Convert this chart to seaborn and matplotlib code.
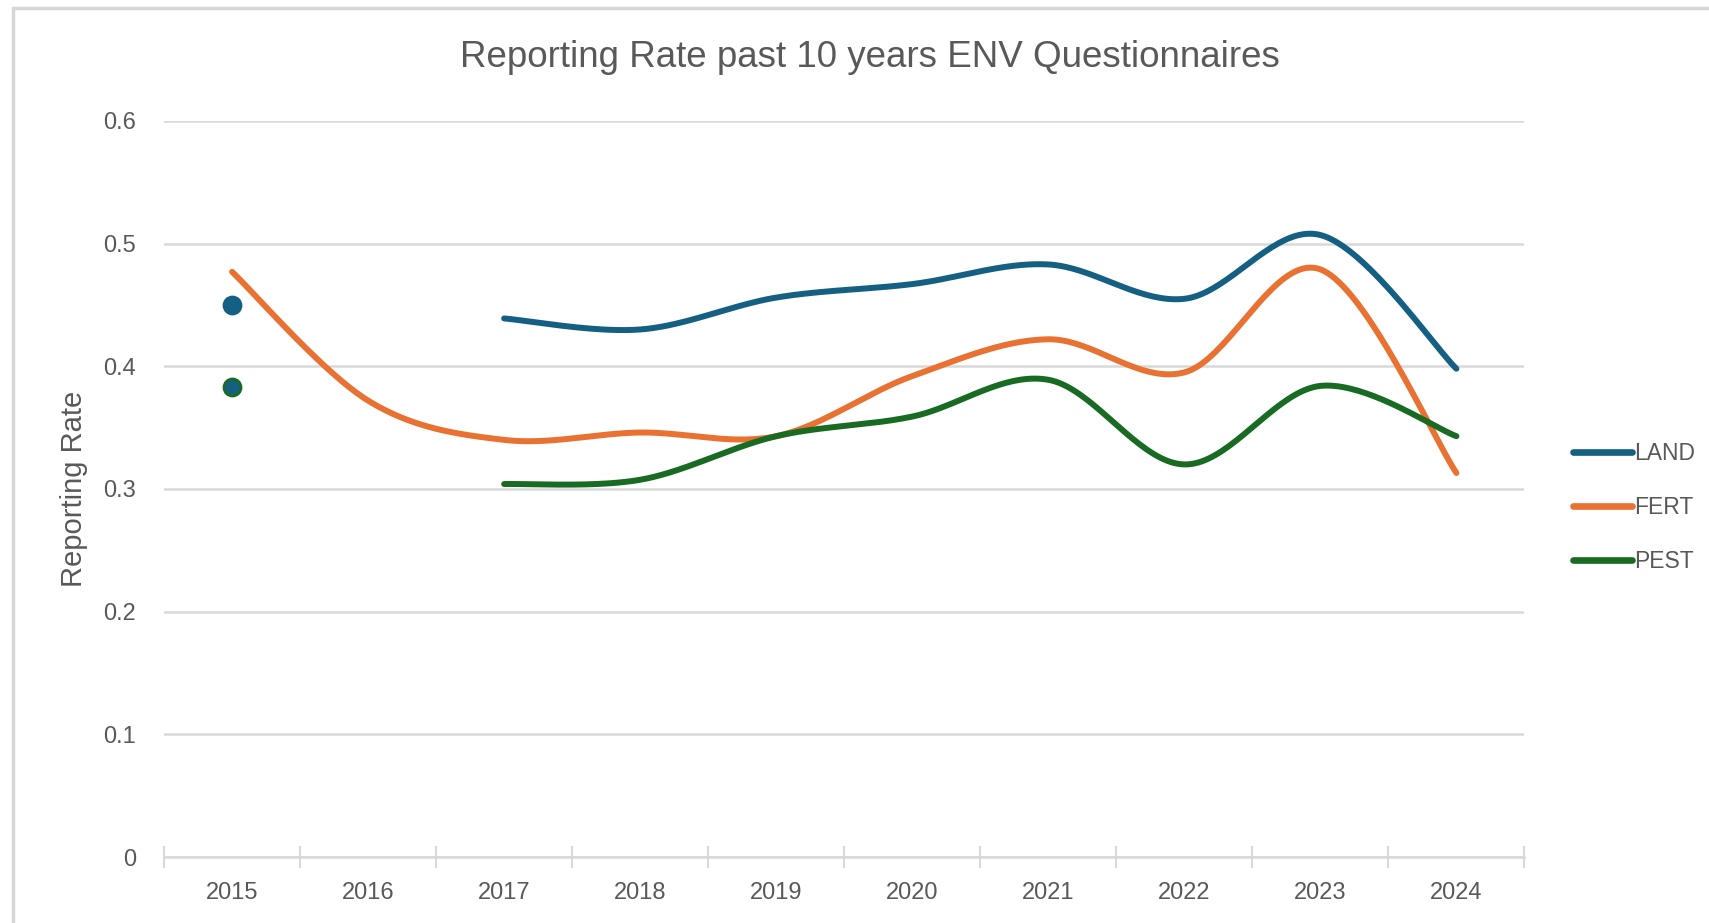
import numpy as np
import pandas as pd
import matplotlib
matplotlib.use("Agg")
import matplotlib.pyplot as plt
from matplotlib.lines import Line2D
from matplotlib.patches import Rectangle
import seaborn as sns

years = ["2015", "2016", "2017", "2018", "2019", "2020", "2021", "2022", "2023", "2024"]
land = [0.450, np.nan, 0.439, 0.430, 0.456, 0.467, 0.483, 0.455, 0.507, 0.398]
fert = [0.477, 0.372, 0.340, 0.346, 0.343, 0.392, 0.422, 0.395, 0.479, 0.313]
pest = [0.383, np.nan, 0.304, 0.3075, 0.343, 0.359, 0.389, 0.320, 0.384, 0.343]

names = ["LAND", "FERT", "PEST"]
colors = {"LAND": "#156082", "FERT": "#E97132", "PEST": "#196B24"}
grey_txt = "#595959"

sns.set_theme(style="white")
plt.rcParams["font.family"] = ["Liberation Sans", "DejaVu Sans"]


def bezier_smooth(xs, ys, n=40):
    # Excel-like smoothed line: cubic bezier through points (catmull-rom style)
    pts = np.column_stack([xs, ys]).astype(float)
    if len(pts) < 2:
        return pts[:, 0], pts[:, 1]
    out = []
    for i in range(len(pts) - 1):
        p0 = pts[i - 1] if i > 0 else pts[i]
        p1 = pts[i]
        p2 = pts[i + 1]
        p3 = pts[i + 2] if i + 2 < len(pts) else pts[i + 1]
        c1 = p1 + (p2 - p0) / 6.0
        c2 = p2 - (p3 - p1) / 6.0
        t = np.linspace(0, 1, n)[:, None]
        seg = (1 - t) ** 3 * p1 + 3 * (1 - t) ** 2 * t * c1 + 3 * (1 - t) * t ** 2 * c2 + t ** 3 * p2
        out.append(seg if i == 0 else seg[1:])
    out = np.vstack(out)
    return out[:, 0], out[:, 1]


df = pd.DataFrame({"year": years, "LAND": land, "FERT": fert, "PEST": pest})
df["x"] = np.arange(len(years))

fig = plt.figure(figsize=(17.09, 9.23), dpi=100)
ax = fig.add_axes([0.096, 0.0715, 0.796, 0.7975])

for name in names:
    vals = df[name].values
    xs = df["x"].values
    # split into runs without gaps
    runs, cur = [], []
    for x, v in zip(xs, vals):
        if np.isnan(v):
            if cur:
                runs.append(cur)
            cur = []
        else:
            cur.append((x, v))
    if cur:
        runs.append(cur)
    for r in runs:
        rx = [p[0] for p in r]
        ry = [p[1] for p in r]
        if len(r) == 1:
            face = colors["LAND"]
            sns.scatterplot(x=rx, y=ry, ax=ax, s=150, color=face,
                            edgecolor=colors[name], linewidth=2, zorder=4)
        else:
            sx, sy = bezier_smooth(rx, ry)
            ax.plot(sx, sy, color=colors[name], lw=4.3, solid_capstyle="round", zorder=3)

ax.set_xlim(-0.5, len(years) - 0.5)
ax.set_ylim(0, 0.6)
ax.set_yticks(np.arange(0, 0.61, 0.1))
ax.set_yticklabels(["0", "0.1", "0.2", "0.3", "0.4", "0.5", "0.6"])
ax.yaxis.grid(True, color="#D9D9D9", lw=1.8)
ax.set_axisbelow(True)
ax.set_xticks(np.arange(len(years)))
ax.set_xticklabels(years)
ax.set_xticks(np.arange(-0.5, len(years)), minor=True)
ax.tick_params(axis="x", which="major", bottom=False, length=0, pad=18, labelsize=17, labelcolor=grey_txt)
ax.tick_params(axis="x", which="minor", bottom=True, length=16, width=1.5,
               direction="inout", color="#D9D9D9")
ax.tick_params(axis="y", length=0, pad=20, labelsize=17, labelcolor=grey_txt)
for s in ["top", "right", "left"]:
    ax.spines[s].set_visible(False)
ax.spines["bottom"].set_color("#D9D9D9")
ax.spines["bottom"].set_linewidth(1.8)

ax.set_ylabel("Reporting Rate", fontsize=21, color=grey_txt, labelpad=11)
fig.text(0.509, 0.938, "Reporting Rate past 10 years ENV Questionnaires",
         ha="center", va="center", fontsize=26.5, color=grey_txt)

handles = [Line2D([0], [0], color=colors[n], lw=4.8, solid_capstyle="round") for n in names]
leg = fig.legend(handles, names, loc="center left", bbox_to_anchor=(0.915, 0.45),
                 frameon=False, fontsize=16.5, handlelength=2.6, handletextpad=0.05,
                 labelspacing=1.35, borderaxespad=0)
for t in leg.get_texts():
    t.set_color(grey_txt)

# chart border (screenshot edge)
fig.patches.append(Rectangle((13 / 1709, -0.1), 1.2, 1 - 8 / 923 + 0.1,
                             transform=fig.transFigure, fill=False,
                             edgecolor="#D6D6D6", lw=2.5))

fig.savefig("out.png", dpi=100)
